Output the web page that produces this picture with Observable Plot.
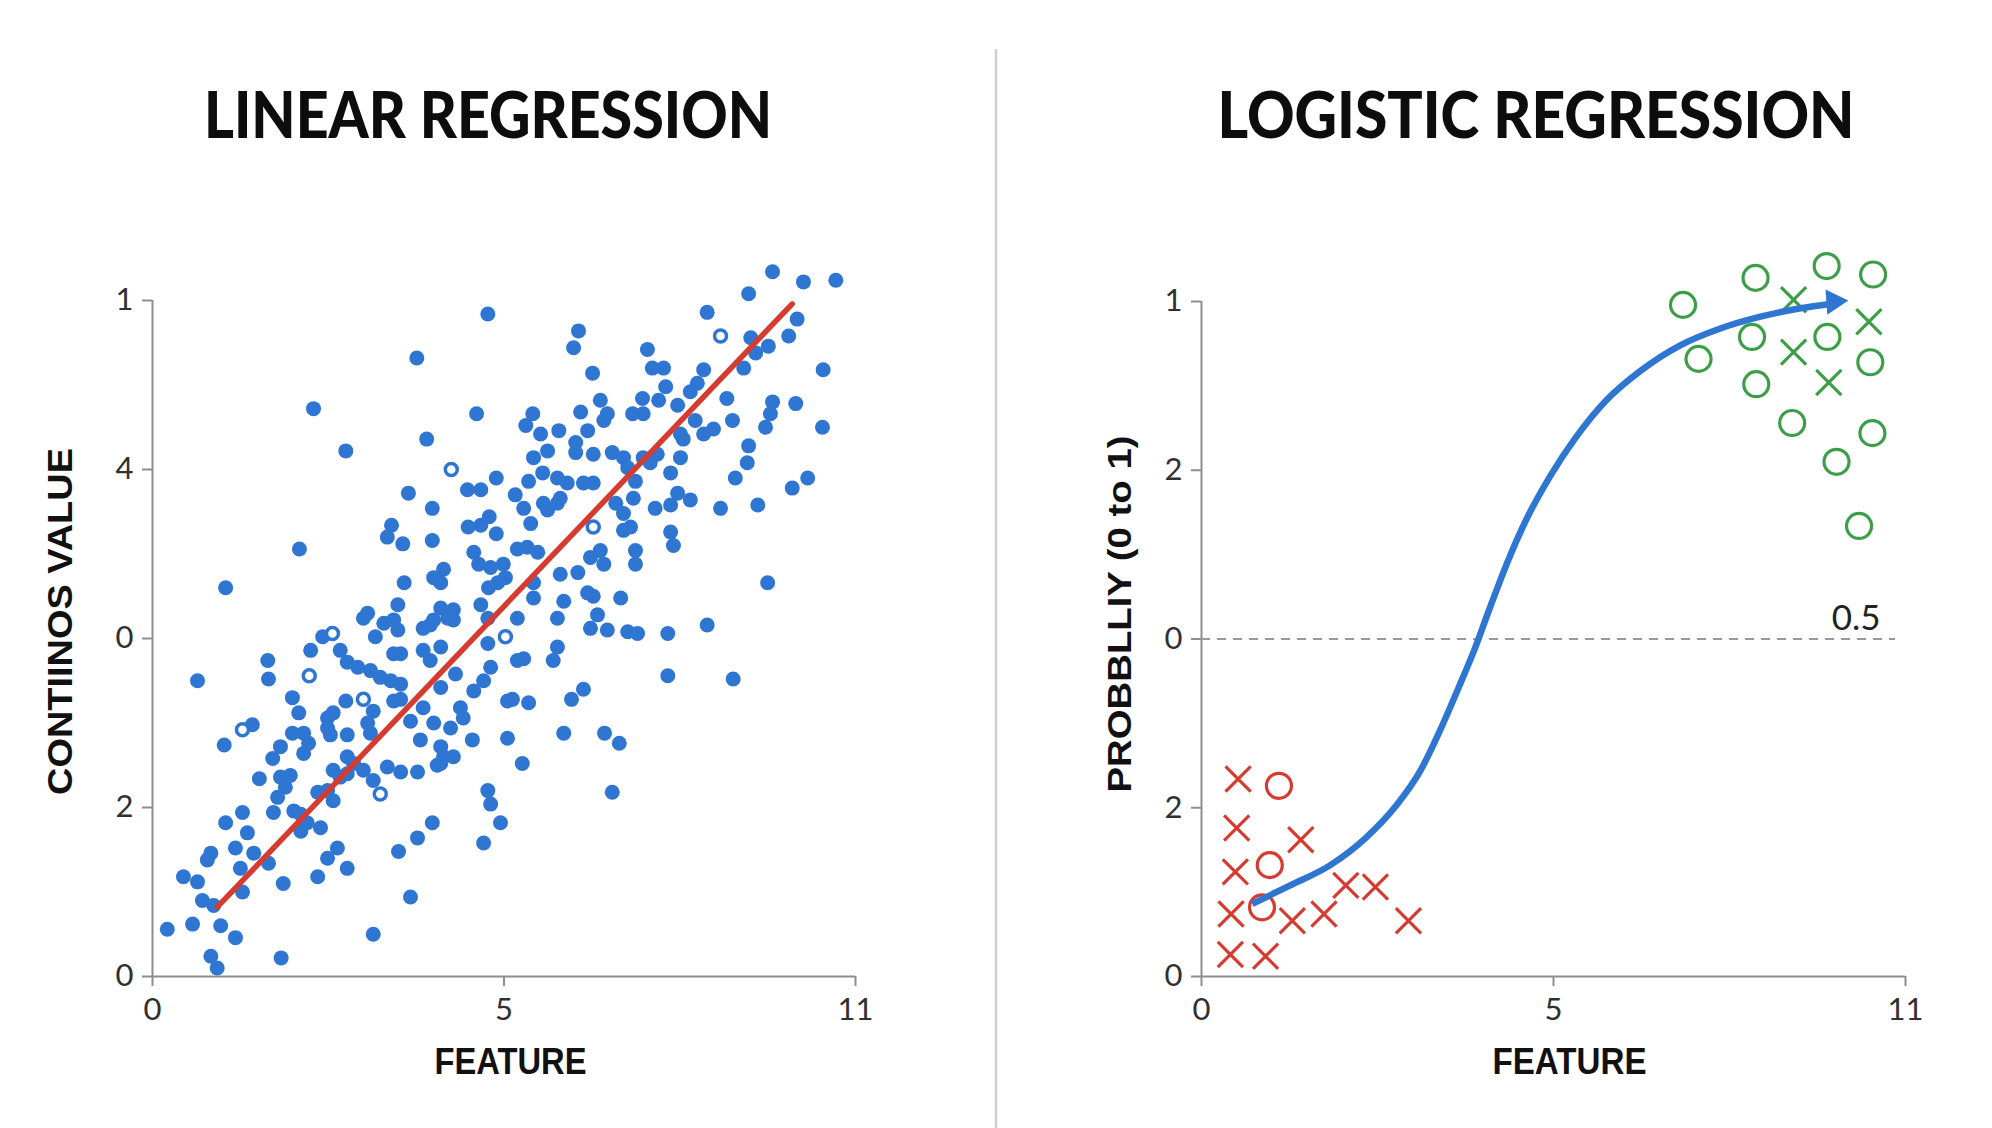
<!DOCTYPE html>
<html><head><meta charset="utf-8">
<script src="https://cdn.jsdelivr.net/npm/d3@7"></script>
<script src="https://cdn.jsdelivr.net/npm/@observablehq/plot@0.6"></script>
<style>
html,body{margin:0;padding:0;background:#fff;}
#page{position:relative;width:1992px;height:1128px;overflow:hidden;background:#fff;}
.panel{position:absolute;top:180px;width:996px;height:948px;}
#overlay{position:absolute;left:0;top:0;pointer-events:none;}
</style></head>
<body><div id="page"><div id="left" class="panel" style="left:0"></div><div id="right" class="panel" style="left:996px"></div></div>
<script>
// ---------- DATA ----------
const titles = ["LINEAR REGRESSION", "LOGISTIC REGRESSION"];
const xLabel = "FEATURE";
const leftYLabel = "CONTIINOS VALUE";
const rightYLabel = "PROBBLLIY (0 to 1)";
const xTickValues = [0, 5, 10];
const xTickLabels = ["0", "5", "11"];
const yTickValues = [0, 1, 2, 3, 4];
const leftYTickLabels = ["0", "2", "0", "4", "1"];
const rightYTickLabels = ["0", "2", "0", "2", "1"];
const thresholdLabel = "0.5";
const thresholdValue = 2;

// linear regression scatter (feature, value)
const linearFilled = [
[4.77,3.92],[3.76,3.66],[2.29,3.36],[2.75,3.11],[4.61,3.33],[3.90,3.18],[4.89,2.95],[3.64,2.86],[4.48,2.88],[4.67,2.88],[3.98,2.77],[3.40,2.67],[3.34,2.60],[3.56,2.56],[4.49,2.66],[4.67,2.67],[4.79,2.72],[4.89,2.62],[3.98,2.58],[2.09,2.53],[4.57,2.51],[4.64,2.44],[5.16,2.85],[5.28,2.77],[5.38,2.68],[5.41,3.33],[5.31,3.26],[5.52,3.21],[5.42,3.07],[5.62,3.11],[5.35,2.93],[5.55,2.98],[5.56,2.80],[5.62,2.76],[5.19,2.53],[5.33,2.54],[5.48,2.51],[4.14,2.41],[4.00,2.36],[4.10,2.33],[4.81,2.42],[4.99,2.44],[4.91,2.33],[4.78,2.30],[5.02,2.36],[3.58,2.33],[1.04,2.30],[3.49,2.20],[3.06,2.15],[3.00,2.12],[4.10,2.18],[4.28,2.17],[4.20,2.12],[4.28,2.11],[4.00,2.11],[3.29,2.09],[3.43,2.11],[3.49,2.05],[3.85,2.06],[3.95,2.08],[4.67,2.20],[4.77,2.12],[5.19,2.12],[5.42,2.24],[5.42,2.33],[2.42,2.01],[3.17,2.01],
[2.25,1.93],[2.67,1.93],[3.85,1.93],[4.10,1.95],[4.77,1.97],[0.64,1.75],[1.64,1.87],[1.65,1.76],[2.77,1.86],[2.92,1.83],[3.43,1.91],[3.53,1.91],[3.10,1.81],[3.24,1.77],[3.39,1.75],[3.53,1.73],[3.95,1.87],[5.19,1.87],[5.28,1.88],[4.81,1.83],[4.71,1.75],[4.57,1.69],[4.31,1.79],[4.10,1.71],[1.99,1.65],[2.08,1.56],[2.75,1.63],[2.49,1.53],[2.57,1.56],[3.14,1.57],[3.06,1.50],[3.10,1.44],[3.43,1.63],[3.53,1.64],[3.67,1.51],[3.85,1.59],[4.00,1.50],[4.24,1.47],[4.38,1.59],[4.42,1.53],[1.42,1.49],[1.02,1.37],[1.99,1.44],[2.15,1.44],[2.22,1.38],[2.49,1.47],[2.53,1.43],[2.77,1.43],[1.82,1.36],[1.71,1.29],[2.15,1.32],[2.77,1.30],[2.86,1.26],[3.81,1.40],[4.10,1.36],[4.14,1.30],[4.28,1.30],[4.05,1.25],[4.55,1.40],[5.05,1.41],[5.26,1.26],[5.05,1.63],[5.12,1.64],[5.35,1.62],[1.52,1.17],[1.82,1.18],[1.96,1.19],[1.89,1.12],[1.78,1.06],[2.57,1.22],[2.67,1.18],[2.77,1.20],[3.00,1.22],[3.14,1.16],[3.34,1.24],[3.53,1.21],[3.77,1.21],[4.10,1.26],[2.35,1.09],[2.49,1.10],[2.57,1.04],[1.72,0.97],[2.01,0.98],[2.11,0.96],[1.28,0.97],[1.35,0.85],[1.04,0.91],[2.11,0.86],[2.20,0.91],[2.39,0.88],[4.77,1.10],[4.81,1.02],[4.95,0.91],[4.71,0.79],[3.98,0.91],[3.77,0.82],[3.50,0.74],[2.63,0.76],[2.49,0.70],[2.77,0.64],[2.35,0.59],[0.83,0.73],[0.78,0.69],[1.18,0.76],[1.44,0.73],[1.65,0.67],[1.25,0.64],[1.28,0.50],[1.86,0.55],[0.44,0.59],[0.64,0.56],[0.71,0.45],[0.87,0.42],[3.67,0.47],[0.21,0.28],[0.57,0.31],[0.97,0.30],[1.18,0.23],[0.83,0.12],[0.92,0.05],[1.83,0.11],[3.14,0.25],
[8.82,4.17],[9.26,4.11],[9.72,4.12],[8.48,4.04],[7.89,3.93],[9.17,3.89],[9.05,3.79],[8.51,3.78],[8.76,3.73],[8.58,3.69],[8.41,3.60],[6.06,3.82],[5.99,3.72],[7.04,3.71],[7.11,3.60],[7.27,3.60],[6.26,3.57],[7.84,3.59],[7.75,3.51],[7.65,3.46],[9.54,3.59],[7.30,3.49],[7.20,3.41],[7.47,3.38],[6.97,3.42],[6.83,3.33],[6.98,3.33],[6.37,3.41],[6.47,3.33],[6.42,3.29],[6.09,3.34],[6.19,3.23],[5.78,3.23],[8.17,3.42],[8.25,3.29],[8.82,3.40],[8.79,3.33],[8.72,3.25],[9.15,3.39],[9.53,3.25],[7.72,3.29],[7.84,3.21],[7.98,3.24],[7.51,3.21],[7.55,3.18],[7.51,3.07],[8.48,3.14],[8.46,3.04],[8.29,2.95],[9.32,2.95],[9.10,2.89],[8.61,2.79],[8.08,2.77],[7.37,2.98],[7.18,3.09],[6.98,3.07],[7.08,3.04],[6.54,3.10],[6.70,3.07],[6.76,3.01],[6.27,3.09],[6.02,3.16],[6.02,3.10],[6.87,2.93],[6.84,2.83],[7.47,2.86],[7.65,2.82],[7.37,2.79],[7.15,2.77],[6.59,2.80],[6.70,2.74],[6.13,2.92],[6.27,2.92],[5.90,2.92],[5.76,2.95],[5.80,2.83],[6.70,2.64],[6.80,2.66],[7.37,2.63],[7.41,2.55],[6.87,2.52],[6.87,2.44],[6.37,2.52],[6.23,2.48],[6.42,2.44],[8.75,2.33],[7.89,2.08],[7.33,2.03],[6.66,2.24],[6.33,2.14],[6.23,2.06],[6.47,2.05],[6.76,2.04],[6.90,2.03],[5.76,2.12],[5.85,2.22],[6.05,2.39],[6.19,2.27],[6.27,2.25],[5.80,2.38],[5.76,2.80],
[5.76,1.95],[5.70,1.87],[7.33,1.78],[8.26,1.76],[6.13,1.70],[5.96,1.64],[5.85,1.44],[6.43,1.44],[6.64,1.38],[6.54,1.09]
];
const linearHollow = [[4.25,3.00],[5.02,2.01],[2.56,2.03],[2.23,1.78],[3.00,1.64],[1.28,1.46],[3.24,1.08],[8.08,3.79],[6.27,2.66]];
const linearFit = [[0.92,0.41],[9.10,3.98]];

// logistic regression (feature, probability scale)
const redCrosses = [[0.52,1.17],[0.50,0.88],[1.41,0.81],[0.48,0.62],[0.42,0.37],[1.29,0.33],[1.74,0.37],[2.05,0.54],[2.47,0.53],[2.94,0.33],[0.41,0.13],[0.91,0.12]];
const redCircles = [[1.10,1.13],[0.97,0.66],[0.86,0.41]];
const greenCircles = [[6.84,3.98],[7.87,4.14],[8.88,4.21],[9.54,4.16],[7.06,3.66],[7.82,3.79],[8.89,3.79],[9.50,3.64],[7.88,3.51],[8.39,3.28],[9.53,3.22],[9.02,3.05],[9.34,2.67]];
const greenCrosses = [[8.41,4.01],[9.48,3.88],[8.41,3.70],[8.91,3.52]];
const sigmoidCurve = [[0.72,0.43],[1.26,0.54],[1.83,0.66],[2.33,0.82],[2.76,1.01],[3.11,1.22],[3.39,1.46],[3.65,1.71],[3.88,1.94],[4.11,2.20],[4.36,2.47],[4.64,2.73],[4.96,2.97],[5.31,3.19],[5.74,3.41],[6.24,3.59],[6.80,3.74],[7.37,3.84],[7.94,3.91],[8.51,3.96],[9.01,3.99]];
const arrowHead = [[8.98,4.00]];
const thresholdExtent = [0, 9.86];
const thresholdLabelPos = [9.30, 2.12];

// ---------- STYLE ----------
const BLUE = "#2f76d3", RED = "#d63b30", GREEN = "#3d9e48", AXIS = "#8e8e8e", TICKTXT = "#303030";

function axes(yLabels) {
  return [
    Plot.ruleX([0], {stroke: AXIS, strokeWidth: 2}),
    Plot.ruleY([0], {stroke: AXIS, strokeWidth: 2}),
    Plot.axisY({ticks: yTickValues, tickFormat: d => yLabels[d], tickSize: 10, tickPadding: 9,
      stroke: AXIS, strokeWidth: 2, fill: TICKTXT, fontSize: 31, fontFamily: "Lato", fontWeight: 400, label: null}),
    Plot.axisX({ticks: xTickValues, tickFormat: d => xTickLabels[xTickValues.indexOf(d)], tickSize: 10, tickPadding: 11,
      stroke: AXIS, strokeWidth: 2, fill: TICKTXT, fontSize: 31, fontFamily: "Lato", fontWeight: 400, label: null})
  ];
}

// horizontal fit via textLength
function fitLength(svg, text, width) {
  svg.querySelectorAll("text").forEach(t => {
    if (t.textContent === text) {
      t.setAttribute("textLength", width);
      t.setAttribute("lengthAdjust", "spacingAndGlyphs");
    }
  });
}
// rotated fit via scale along the text direction (keeps middle anchoring)
function fitScale(svg, text, width) {
  svg.querySelectorAll("text").forEach(t => {
    if (t.textContent === text) {
      const L = t.getComputedTextLength();
      if (L > 0) {
        const k = width / L;
        t.setAttribute("transform", (t.getAttribute("transform") || "") + ` scale(${k},1)`);
      }
    }
  });
}

const common = {width: 996, height: 948, marginTop: 120, marginBottom: 152,
  x: {domain: [0, 10]}, y: {domain: [0, 4]},
  style: {background: "transparent", fontFamily: "Lato"}};

const labelStyle = {fontWeight: "bold", fontFamily: "Liberation Sans", fill: "#111", textAnchor: "middle", lineAnchor: "middle"};

const left = Plot.plot({
  ...common, marginLeft: 152, marginRight: 141,
  marks: [
    ...axes(leftYTickLabels),
    Plot.dot(linearFilled, {x: d => d[0], y: d => d[1], r: 7.5, fill: BLUE}),
    Plot.dot(linearHollow, {x: d => d[0], y: d => d[1], r: 6, fill: "white", stroke: BLUE, strokeWidth: 3.5}),
    Plot.line(linearFit, {x: d => d[0], y: d => d[1], stroke: RED, strokeWidth: 5.5}),
    Plot.text([xLabel], {...labelStyle, frameAnchor: "bottom", dx: 6.5, dy: 86, fontSize: 37}),
    Plot.text([leftYLabel], {...labelStyle, frameAnchor: "left", rotate: -90, dx: -91.5, dy: -17, fontSize: 35})
  ]
});
document.getElementById("left").append(left);
fitLength(left, xLabel, 152);
fitScale(left, leftYLabel, 347);

const right = Plot.plot({
  ...common, marginTop: 121, marginLeft: 205, marginRight: 87,
  marks: [
    ...axes(rightYTickLabels),
    Plot.ruleY([{y: thresholdValue, x1: thresholdExtent[0], x2: thresholdExtent[1]}], {y: "y", x1: "x1", x2: "x2", stroke: "#9a9a9a", strokeWidth: 2, strokeDasharray: "9,7"}),
    Plot.text([thresholdLabel], {x: thresholdLabelPos[0], y: thresholdLabelPos[1], fontSize: 35, fontFamily: "Lato", fill: "#222"}),
    Plot.dot(redCrosses, {x: d => d[0], y: d => d[1], symbol: "times", r: 11.5, stroke: RED, strokeWidth: 3.2}),
    Plot.dot(redCircles, {x: d => d[0], y: d => d[1], symbol: "circle", r: 12.5, fill: "none", stroke: RED, strokeWidth: 3.2}),
    Plot.dot(greenCircles, {x: d => d[0], y: d => d[1], symbol: "circle", r: 12.5, fill: "none", stroke: GREEN, strokeWidth: 3.2}),
    Plot.dot(greenCrosses, {x: d => d[0], y: d => d[1], symbol: "times", r: 11.5, stroke: GREEN, strokeWidth: 3.2}),
    Plot.line(sigmoidCurve, {x: d => d[0], y: d => d[1], curve: "monotone-x", stroke: BLUE, strokeWidth: 6.5, strokeLinecap: "butt"}),
    Plot.dot(arrowHead, {x: d => d[0], y: d => d[1], symbol: "triangle", r: 9.4, fill: BLUE, rotate: 86}),
    Plot.text([xLabel], {...labelStyle, frameAnchor: "bottom", dx: 16, dy: 86, fontSize: 37}),
    Plot.text([rightYLabel], {...labelStyle, frameAnchor: "left", rotate: -90, dx: -81, dy: -25, fontSize: 34})
  ]
});
document.getElementById("right").append(right);
fitLength(right, xLabel, 154);
fitScale(right, rightYLabel, 357);

// ---------- titles and separator (outside the plots) ----------
const ov = d3.select("#page").append("svg").attr("id", "overlay").attr("width", 1992).attr("height", 1128);
ov.append("line").attr("x1", 996).attr("x2", 996).attr("y1", 49).attr("y2", 1128)
  .attr("stroke", "#cfcfcf").attr("stroke-width", 2.5);
const titlePos = [[488, 568], [1536, 637]];
titles.forEach((t, i) => {
  ov.append("text").text(t).attr("x", titlePos[i][0]).attr("y", 138)
    .attr("text-anchor", "middle").attr("font-family", "Lato").attr("font-weight", 900)
    .attr("font-size", 64).attr("fill", "#0d0d0d")
    .attr("textLength", titlePos[i][1]).attr("lengthAdjust", "spacingAndGlyphs");
});
</script></body></html>
